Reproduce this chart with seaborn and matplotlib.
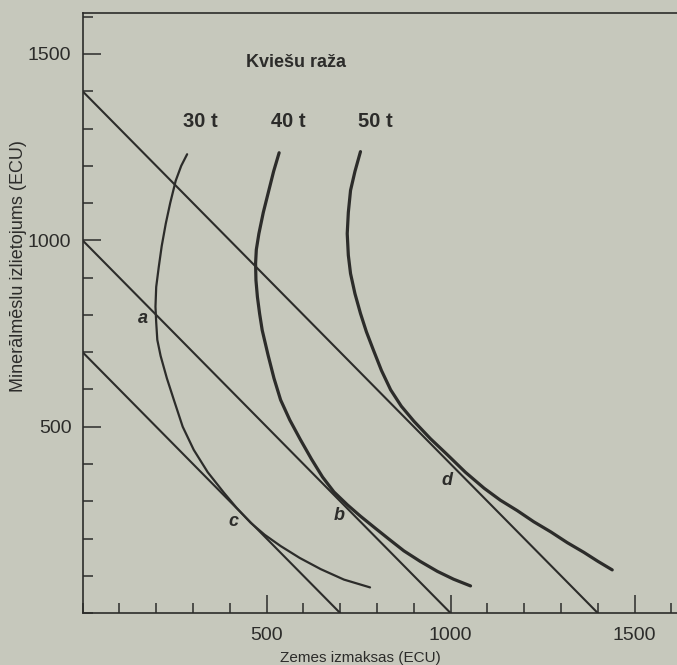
import matplotlib
matplotlib.use('Agg')
import matplotlib.pyplot as plt
from matplotlib import font_manager
from matplotlib.ticker import MultipleLocator, FixedLocator
import seaborn as sns

# isocost lines (land cost, fertiliser cost), ECU
cost_high_x = [0, 1400]
cost_high_y = [1400, 0]
cost_mid_x = [0, 1000]
cost_mid_y = [1000, 0]
cost_low_x = [0, 700]
cost_low_y = [700, 0]

# isoquants (top end first)
q30_x = [284, 268, 253, 238, 226, 215, 207, 200, 198, 200, 203, 212, 229, 248, 272, 302,
         340, 384, 418, 457, 495, 538, 590, 647, 710, 781]
q30_y = [1231, 1200, 1160, 1100, 1045, 985, 929, 875, 822, 780, 733, 690, 630, 572, 500, 438,
         378, 323, 283, 242, 210, 180, 148, 118, 90, 69]
q40_x = [534, 519, 506, 491, 479, 472, 470, 471, 475, 481, 488, 504, 520, 538, 563, 592,
         622, 652, 683, 720, 755, 795, 833, 873, 917, 964, 1008, 1054]
q40_y = [1235, 1185, 1134, 1075, 1018, 975, 938, 893, 848, 803, 759, 692, 630, 572, 518, 465,
         413, 365, 325, 290, 260, 228, 198, 167, 139, 112, 91, 73]
q50_x = [755, 740, 728, 722, 719, 722, 728, 740, 755, 771, 790, 812, 837, 866, 900, 945,
         991, 1040, 1091, 1135, 1181, 1226, 1272, 1317, 1362, 1400, 1439]
q50_y = [1238, 1185, 1134, 1075, 1018, 960, 911, 857, 804, 755, 706, 651, 599, 555, 515, 468,
         425, 378, 335, 303, 275, 245, 218, 189, 163, 139, 116]

yield_labels = ['30 t', '40 t', '50 t']
yield_label_x = [321, 560, 796]
point_names = ['a', 'b', 'c', 'd']
point_x = [165, 696, 411, 991]
point_y = [791, 263, 245, 356]


def has_font(name):
    try:
        font_manager.findfont(font_manager.FontProperties(family=name), fallback_to_default=False)
        return True
    except Exception:
        return False


narrow = 'Liberation Sans Narrow' if has_font('Liberation Sans Narrow') else 'Liberation Sans'
num_size = 16 if narrow == 'Liberation Sans Narrow' else 14

sns.set_theme(style='ticks')
plt.rcParams['font.family'] = ['Liberation Sans', 'DejaVu Sans']

bg = '#c6c8bc'
ink = '#2c2c2a'

fig = plt.figure(figsize=(6.77, 6.65), dpi=100, facecolor=bg)
ax = fig.add_axes([0.122, 0.078, 0.878, 0.9025])
ax.set_facecolor(bg)

for xs, ys in [(cost_high_x, cost_high_y), (cost_mid_x, cost_mid_y), (cost_low_x, cost_low_y)]:
    sns.lineplot(x=xs, y=ys, ax=ax, color=ink, linewidth=1.5, sort=False, estimator=None)

sns.lineplot(x=q30_x, y=q30_y, ax=ax, color=ink, linewidth=1.6, sort=False, estimator=None)
sns.lineplot(x=q40_x, y=q40_y, ax=ax, color=ink, linewidth=2.3, sort=False, estimator=None)
sns.lineplot(x=q50_x, y=q50_y, ax=ax, color=ink, linewidth=2.3, sort=False, estimator=None)
for ln in ax.lines:
    ln.set_solid_joinstyle('round')

ax.set_xlim(0, 1615)
ax.set_ylim(0, 1610)

ax.xaxis.set_major_locator(FixedLocator([500, 1000, 1500]))
ax.yaxis.set_major_locator(FixedLocator([500, 1000, 1500]))
ax.xaxis.set_minor_locator(MultipleLocator(100))
ax.yaxis.set_minor_locator(MultipleLocator(100))
ax.tick_params(which='major', direction='in', length=13, width=1.1, color=ink,
               labelsize=num_size, labelcolor=ink)
ax.tick_params(axis='x', which='major', pad=10)
ax.tick_params(axis='y', which='major', pad=8)
ax.tick_params(which='minor', direction='in', length=7.5, width=1.1, color=ink)
for lab in ax.get_xticklabels() + ax.get_yticklabels():
    lab.set_family([narrow, 'DejaVu Sans'])

for side in ['left', 'bottom', 'top']:
    ax.spines[side].set_color(ink)
    ax.spines[side].set_linewidth(1.2)
ax.spines['right'].set_visible(False)

ax.set_xlabel('Zemes izmaksas (ECU)', fontsize=11, color=ink)
ax.set_ylabel('Minerālmēslu izlietojums (ECU)', fontsize=13, color=ink)
ax.xaxis.set_label_coords(0.468, -0.063)
ax.yaxis.set_label_coords(-0.094, 0.578)

ax.text(579, 1476, 'Kviešu raža', fontsize=13, fontweight='bold', color=ink,
        ha='center', va='center')
for lab, lx in zip(yield_labels, yield_label_x):
    ax.text(lx, 1318, lab, fontsize=num_size + 0.5, fontweight='bold', color=ink,
            ha='center', va='center', family=[narrow, 'DejaVu Sans'])
for lab, px, py in zip(point_names, point_x, point_y):
    ax.text(px, py, lab, fontsize=13, fontweight='bold', fontstyle='italic', color=ink,
            ha='center', va='center')

fig.savefig('out.png', dpi=100, facecolor=bg)
